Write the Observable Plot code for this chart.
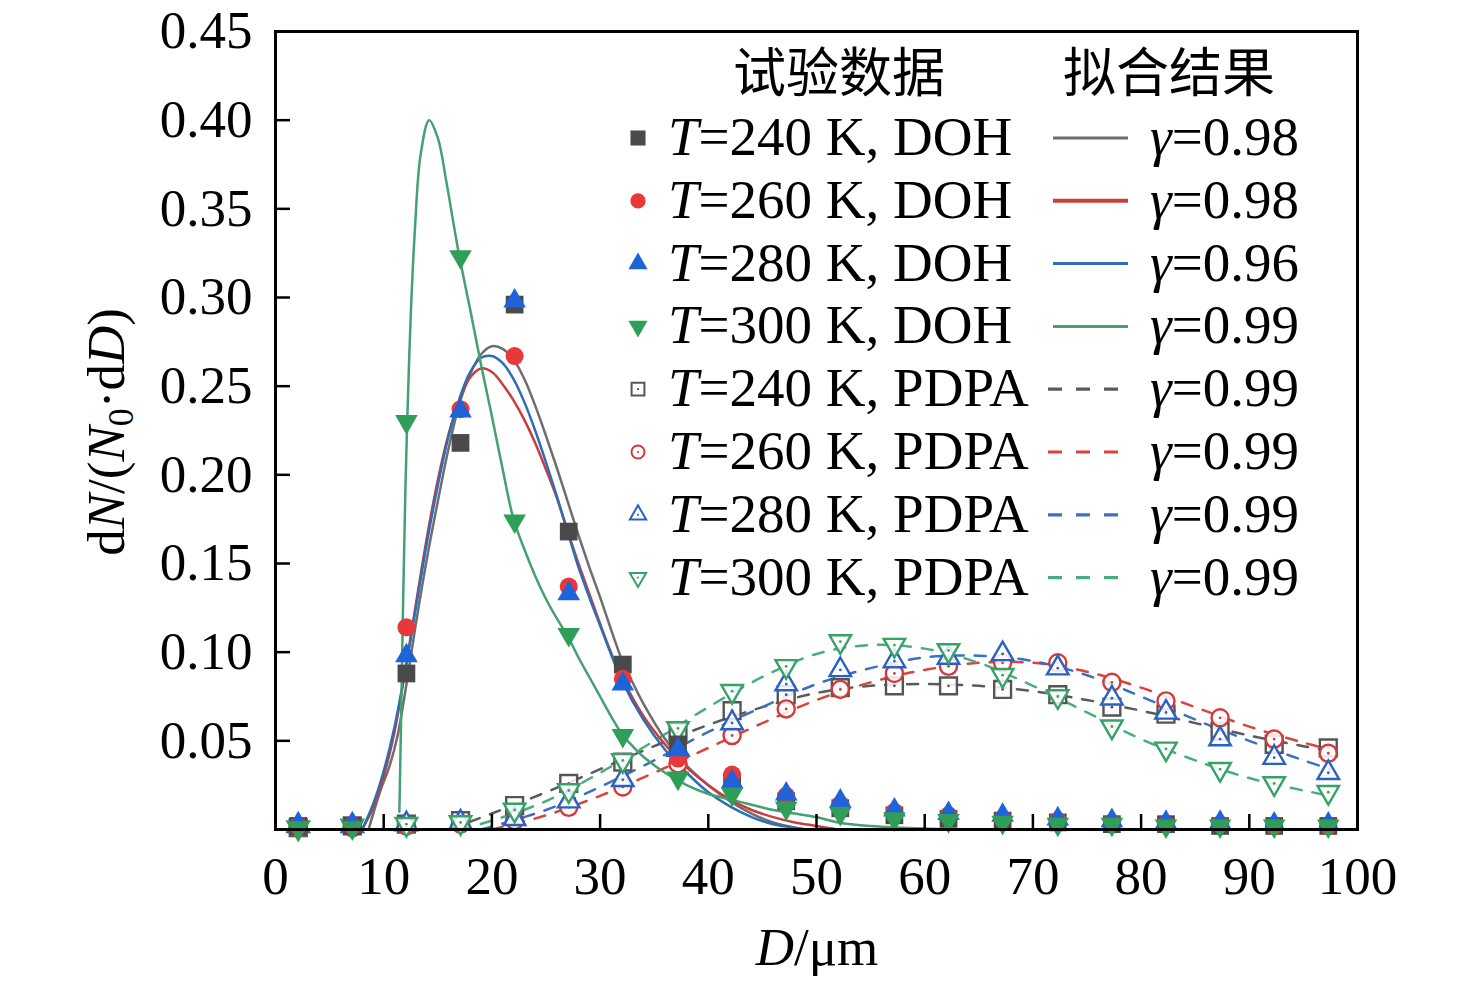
<!DOCTYPE html>
<html><head><meta charset="utf-8">
<script src="https://cdn.jsdelivr.net/npm/d3@7"></script>
<script src="https://cdn.jsdelivr.net/npm/@observablehq/plot@0.6"></script>
<style>
body{margin:0;background:#fff;}
#chart{position:relative;width:1476px;height:985px;}
</style>
</head><body><div id="chart"></div>
<script>
// ---- data ----
const D = [2.1, 7.1, 12.1, 17.1, 22.1, 27.1, 32.1, 37.2, 42.2, 47.2, 52.2, 57.2, 62.2, 67.2, 72.3, 77.3, 82.3, 87.3, 92.3, 97.3];

const doh240 = [0.002, 0.002, 0.088, 0.218, 0.296, 0.168, 0.093, 0.048, 0.027, 0.016, 0.012, 0.008, 0.006, 0.005, 0.004, 0.003, 0.003, 0.002, 0.002, 0.002];
const doh260 = [0.002, 0.002, 0.114, 0.237, 0.267, 0.137, 0.085, 0.040, 0.031, 0.019, 0.014, 0.010, 0.008, 0.006, 0.005, 0.004, 0.003, 0.003, 0.002, 0.002];
const doh280 = [0.003, 0.003, 0.098, 0.236, 0.298, 0.133, 0.082, 0.045, 0.027, 0.020, 0.016, 0.011, 0.009, 0.008, 0.006, 0.005, 0.004, 0.004, 0.003, 0.003];
const doh300 = [0.001, 0.001, 0.230, 0.323, 0.174, 0.110, 0.053, 0.029, 0.020, 0.012, 0.009, 0.006, 0.005, 0.004, 0.003, 0.003, 0.002, 0.002, 0.002, 0.002];

const pdpa240 = [0.001, 0.002, 0.003, 0.005, 0.0135, 0.026, 0.038, 0.055, 0.067, 0.076, 0.080, 0.081, 0.081, 0.079, 0.076, 0.069, 0.065, 0.0555, 0.048, 0.046];
const pdpa260 = [0.001, 0.001, 0.002, 0.003, 0.005, 0.0125, 0.024, 0.037, 0.053, 0.068, 0.079, 0.088, 0.092, 0.094, 0.094, 0.083, 0.0725, 0.063, 0.051, 0.043];
const pdpa280 = [0.002, 0.002, 0.003, 0.004, 0.006, 0.016, 0.028, 0.045, 0.060, 0.082, 0.090, 0.095, 0.097, 0.099, 0.091, 0.074, 0.066, 0.051, 0.0405, 0.032];
const pdpa300 = [0.001, 0.002, 0.003, 0.004, 0.011, 0.022, 0.039, 0.057, 0.078, 0.092, 0.106, 0.104, 0.101, 0.087, 0.075, 0.058, 0.0455, 0.034, 0.026, 0.021];

// fitted curves
const fitDoh240D = [8.6, 9.7, 10.5, 11.25, 12, 13, 14, 15, 16, 17, 18, 19, 20, 21, 22, 23, 24, 25, 26, 27, 28, 29, 30, 31, 32, 33, 34, 36, 38, 40, 42, 44, 46, 48, 49];
const fitDoh240Y = [0, 0.022, 0.035, 0.052, 0.078, 0.117, 0.153, 0.185, 0.215, 0.240, 0.257, 0.268, 0.2725, 0.271, 0.265, 0.254, 0.239, 0.222, 0.204, 0.185, 0.166, 0.148, 0.131, 0.113, 0.096, 0.083, 0.071, 0.051, 0.036, 0.025, 0.016, 0.009, 0.004, 0.001, 0];
const fitDoh260D = [8.0, 9, 10, 11, 12, 13, 14, 15, 16, 17, 18, 19, 20, 21, 22, 23, 24, 25, 26, 27, 28, 29, 30, 31, 32, 34, 36, 38, 40, 42, 44, 46, 48, 50, 52];
const fitDoh260Y = [0, 0.012, 0.030, 0.055, 0.090, 0.128, 0.165, 0.197, 0.223, 0.242, 0.255, 0.260, 0.258, 0.251, 0.242, 0.231, 0.218, 0.203, 0.187, 0.168, 0.150, 0.133, 0.116, 0.100, 0.086, 0.064, 0.048, 0.035, 0.025, 0.017, 0.011, 0.007, 0.004, 0.002, 0];
const fitDoh280D = [8.0, 9, 10, 11, 12, 13, 14, 15, 16, 17, 18, 19, 20, 21, 22, 23, 24, 25, 26, 27, 28, 29, 30, 31, 32, 34, 36, 38, 40, 42, 44, 46, 48, 49];
const fitDoh280Y = [0, 0.014, 0.033, 0.058, 0.090, 0.126, 0.162, 0.194, 0.222, 0.243, 0.258, 0.266, 0.267, 0.263, 0.254, 0.241, 0.225, 0.207, 0.188, 0.168, 0.148, 0.131, 0.115, 0.099, 0.084, 0.062, 0.045, 0.032, 0.021, 0.013, 0.007, 0.003, 0.001, 0];
const fitDoh300D = [11.45, 11.6, 11.8, 12.0, 12.2, 12.5, 12.9, 13.4, 14.2, 15.0, 15.8, 16.5, 17, 18, 19, 20, 21, 22, 23, 24, 25, 26, 27, 28, 29, 30, 31, 32, 33, 34, 36, 38, 40, 42, 44, 46, 48, 50, 52, 55, 60, 65];
const fitDoh300Y = [0.01, 0.06, 0.13, 0.19, 0.235, 0.29, 0.34, 0.38, 0.40, 0.39, 0.365, 0.34, 0.323, 0.293, 0.262, 0.233, 0.203, 0.175, 0.158, 0.143, 0.130, 0.119, 0.109, 0.097, 0.086, 0.075, 0.064, 0.054, 0.047, 0.041, 0.032, 0.025, 0.020, 0.017, 0.014, 0.011, 0.009, 0.007, 0.004, 0.002, 0.0005, 0];

const fitPdpa240D = [16, 20, 25, 30, 35, 40, 45, 50, 55, 60, 65, 70, 75, 80, 85, 90, 95, 97.5];
const fitPdpa240Y = [0, 0.009, 0.021, 0.034, 0.047, 0.059, 0.069, 0.077, 0.081, 0.082, 0.081, 0.078, 0.073, 0.067, 0.060, 0.053, 0.047, 0.044];
const fitPdpa260D = [20, 25, 30, 35, 40, 45, 50, 55, 60, 65, 70, 75, 80, 85, 90, 95, 97.5];
const fitPdpa260Y = [0, 0.008, 0.019, 0.032, 0.046, 0.060, 0.073, 0.083, 0.090, 0.094, 0.094, 0.089, 0.080, 0.069, 0.058, 0.049, 0.045];
const fitPdpa280D = [19, 25, 30, 35, 40, 45, 50, 55, 60, 65, 70, 75, 80, 85, 90, 95, 97.5];
const fitPdpa280Y = [0, 0.011, 0.024, 0.039, 0.055, 0.069, 0.082, 0.091, 0.097, 0.098, 0.095, 0.087, 0.075, 0.062, 0.050, 0.039, 0.034];
const fitPdpa300D = [17, 20, 25, 30, 35, 40, 45, 50, 55, 60, 65, 70, 75, 80, 85, 90, 95, 97.5];
const fitPdpa300Y = [0, 0.005, 0.016, 0.032, 0.050, 0.069, 0.086, 0.099, 0.104, 0.102, 0.094, 0.081, 0.066, 0.051, 0.039, 0.029, 0.022, 0.019];

const xTicks = [0, 10, 20, 30, 40, 50, 60, 70, 80, 90, 100];
const yTicks = [0.05, 0.10, 0.15, 0.20, 0.25, 0.30, 0.35, 0.40, 0.45];

const temps = ["240", "260", "280", "300"];
const gammaDoh = ["0.98", "0.98", "0.96", "0.99"];
const gammaPdpa = ["0.99", "0.99", "0.99", "0.99"];
const legendHeaders = ["试验数据", "拟合结果"];

// ---- styles ----
const fillDoh = ["#4a4a4a", "#e8383a", "#1e63d8", "#2f9e58"];
const lineDoh = ["#6e6e6e", "#cc3c3c", "#2f6db5", "#45a072"];
const strokePdpa = ["#555555", "#d23b3b", "#2a62c4", "#36a266"];
const linePdpa = ["#5a5a5a", "#d9443f", "#3a70c0", "#48ae80"];

const sqrt3 = Math.sqrt(3);
const triangleDown = {
  draw(context, size) {
    const y = -Math.sqrt(size / (sqrt3 * 3));
    context.moveTo(0, -y * 2);
    context.lineTo(-sqrt3 * y, y);
    context.lineTo(sqrt3 * y, y);
    context.closePath();
  }
};
const symbols = [d3.symbolSquare, d3.symbolCircle, d3.symbolTriangle, triangleDown];
const symNames = ["square", "circle", "triangle", triangleDown];
const rDot = [10, 9, 8.4, 8.4];

const pts = arr => D.map((d, i) => ({D: d, v: arr[i]}));
const crv = (xs, ys) => xs.map((d, i) => ({D: d, v: ys[i]}));

const dohArr = [doh240, doh260, doh280, doh300];
const pdpaArr = [pdpa240, pdpa260, pdpa280, pdpa300];
const fitDoh = [crv(fitDoh240D, fitDoh240Y), crv(fitDoh260D, fitDoh260Y), crv(fitDoh280D, fitDoh280Y), crv(fitDoh300D, fitDoh300Y)];
const fitPdpa = [crv(fitPdpa240D, fitPdpa240Y), crv(fitPdpa260D, fitPdpa260Y), crv(fitPdpa280D, fitPdpa280Y), crv(fitPdpa300D, fitPdpa300Y)];

const marks = [];
fitPdpa.forEach((rows, k) => marks.push(Plot.line(rows, {x: "D", y: "v", stroke: linePdpa[k], strokeWidth: 2.5, strokeDasharray: "11,11", curve: "catmull-rom"})));
fitDoh.forEach((rows, k) => marks.push(Plot.line(rows, {x: "D", y: "v", stroke: lineDoh[k], strokeWidth: 2.5, curve: "catmull-rom"})));
pdpaArr.forEach((arr, k) => {
  marks.push(Plot.dot(pts(arr), {x: "D", y: "v", symbol: symNames[k], r: rDot[k] * 0.95, fill: "white", fillOpacity: 0.85, stroke: strokePdpa[k], strokeWidth: 2.4}));
  marks.push(Plot.dot(pts(arr), {x: "D", y: "v", r: 1.4, fill: strokePdpa[k]}));
});
dohArr.forEach((arr, k) => marks.push(Plot.dot(pts(arr), {x: "D", y: "v", symbol: symNames[k], r: rDot[k], fill: fillDoh[k], stroke: "none"})));

marks.push(Plot.frame({stroke: "black", strokeWidth: 3}));
marks.push(Plot.axisX({ticks: xTicks, tickSize: -15, tickPadding: 42, strokeWidth: 2.5, fontSize: 53, label: null, tickFormat: d => d}));
marks.push(Plot.axisY({ticks: yTicks, tickSize: -15, tickPadding: 38, strokeWidth: 2.5, fontSize: 53, label: null, tickFormat: d3.format(".2f")}));

const plot = Plot.plot({
  width: 1476, height: 985,
  marginLeft: 275, marginRight: 119, marginTop: 31, marginBottom: 156,
  x: {domain: [0, 100]},
  y: {domain: [0, 0.45]},
  style: {fontFamily: "'Liberation Serif', 'DejaVu Serif', serif", fontSize: "53px", color: "black", background: "white"},
  marks
});
document.getElementById("chart").appendChild(plot);

// ---- axis titles & legend (rich text) ----
const svg = d3.select(plot);
const serif = "'Liberation Serif', 'DejaVu Serif', serif";

const yl = svg.append("text").attr("transform", "translate(124,432) rotate(-90)")
  .attr("text-anchor", "middle").attr("font-family", serif).attr("font-size", 53).attr("fill", "black");
yl.append("tspan").text("d");
yl.append("tspan").attr("font-style", "italic").text("N");
yl.append("tspan").text("/(");
yl.append("tspan").attr("font-style", "italic").text("N");
yl.append("tspan").attr("font-size", 36).attr("dy", 9).text("0");
yl.append("tspan").attr("dy", -9).text("·d");
yl.append("tspan").attr("font-style", "italic").text("D");
yl.append("tspan").text(")");

const xl = svg.append("text").attr("x", 817).attr("y", 965)
  .attr("text-anchor", "middle").attr("font-family", serif).attr("font-size", 53).attr("fill", "black");
xl.append("tspan").attr("font-style", "italic").text("D");
xl.append("tspan").text("/μm");

const lg = svg.append("g").attr("text-anchor", "start");
lg.append("text").attr("x", 839).attr("y", 92).attr("text-anchor", "middle")
  .attr("font-family", "'Noto Sans CJK SC', sans-serif").attr("font-size", 53).attr("fill", "black").text(legendHeaders[0]);
lg.append("text").attr("x", 1169).attr("y", 92).attr("text-anchor", "middle")
  .attr("font-family", "'Noto Sans CJK SC', sans-serif").attr("font-size", 53).attr("fill", "black").text(legendHeaders[1]);

const rowY0 = 138, rowStep = 62.8;
const legendScale = 0.85;
for (let g = 0; g < 2; g++) {
  for (let k = 0; k < 4; k++) {
    const i = g * 4 + k;
    const cy = rowY0 + i * rowStep;
    const r = rDot[k] * legendScale * (g === 1 ? 0.85 : 1);
    const path = d3.symbol(symbols[k], Math.PI * r * r)();
    if (g === 0) {
      lg.append("path").attr("d", path).attr("transform", `translate(638,${cy})`).attr("fill", fillDoh[k]);
    } else {
      lg.append("path").attr("d", path).attr("transform", `translate(638,${cy})`)
        .attr("fill", "white").attr("stroke", strokePdpa[k]).attr("stroke-width", 2);
      lg.append("circle").attr("cx", 638).attr("cy", cy).attr("r", 1.1).attr("fill", strokePdpa[k]);
    }
    const t = lg.append("text").attr("x", 668).attr("y", cy + 17).attr("text-anchor", "start")
      .attr("font-family", serif).attr("font-size", 55).attr("fill", "black");
    t.append("tspan").attr("font-style", "italic").text("T");
    t.append("tspan").text(`=${temps[k]} K, ${g === 0 ? "DOH" : "PDPA"}`);
    const ln = lg.append("line").attr("x1", g === 0 ? 1053 : 1048).attr("x2", 1128).attr("y1", cy).attr("y2", cy)
      .attr("stroke", g === 0 ? lineDoh[k] : linePdpa[k]).attr("stroke-width", g === 0 ? (k === 1 ? 4 : 3) : 3.2);
    if (g === 1) ln.attr("stroke-dasharray", "14,14");
    const gt = lg.append("text").attr("x", 1150).attr("y", cy + 17).attr("text-anchor", "start")
      .attr("font-family", serif).attr("font-size", 55).attr("fill", "black");
    gt.append("tspan").attr("font-style", "italic").text("γ");
    gt.append("tspan").text(`=${g === 0 ? gammaDoh[k] : gammaPdpa[k]}`);
  }
}
</script>
</body></html>
